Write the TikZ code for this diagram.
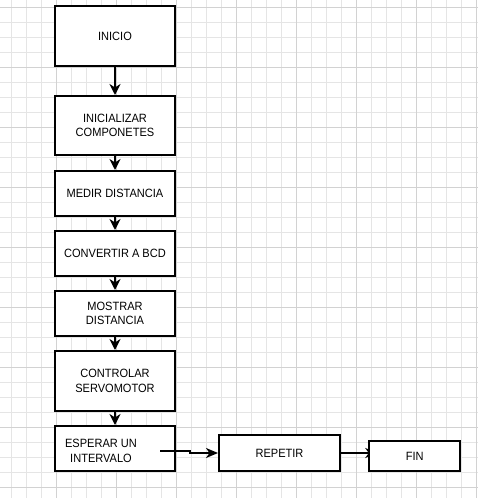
\documentclass[tikz,border=0pt]{standalone}
\usepackage{fontspec}
\setmainfont{Liberation Sans}[FakeStretch=0.92]
\usetikzlibrary{arrows.meta,calc}
\pgfdeclarelayer{gridlayer}
\pgfdeclarelayer{under}
\pgfsetlayers{gridlayer,under,main}
\begin{document}
\begin{tikzpicture}[x=1pt,y=-1pt,
  box/.style={draw, line width=2pt, fill=white, inner sep=0pt, align=center,
    minimum width=120pt, font=\fontsize{12}{14.5}\selectfont},
  flow/.style={line width=2pt, -{Stealth[length=11pt,width=11pt,inset=3.5pt]}},
  side/.style={line width=1.5pt, -{Stealth[length=12pt,width=10pt,inset=3.5pt]}},
  minorgrid/.style={line width=1pt, gray!20},
  majorgrid/.style={line width=1pt, gray!35}]
\useasboundingbox (0,0) rectangle (478,498);
\begin{pgfonlayer}{gridlayer}
  \fill[white] (0,0) rectangle (478,498);
  \foreach \i in {0,...,31} \draw[minorgrid] (11.7+15*\i,0) -- ++(0,498);
  \foreach \i in {0,...,32} \draw[minorgrid] (0,7.3+15*\i) -- ++(478,0);
  \foreach \i in {0,...,7} \draw[majorgrid] (56.7+60*\i,0) -- ++(0,498);
  \foreach \i in {0,...,8} \draw[majorgrid] (0,7.3+60*\i) -- ++(478,0);
\end{pgfonlayer}

\node[box, minimum height=60pt] (ini) at (115,36) {INICIO};
\node[box, minimum height=59pt] (inc) at (115,125.5) {INICIALIZAR\\COMPONETES};
\node[box, minimum height=45pt] (med) at (115,193.5) {MEDIR DISTANCIA};
\node[box, minimum height=45pt] (con) at (115,253.5) {CONVERTIR A BCD};
\node[box, minimum height=45pt] (mos) at (115,313.5) {MOSTRAR\\DISTANCIA};
\node[box, minimum height=60pt] (ctl) at (115,381) {CONTROLAR\\SERVOMOTOR};
\node[box, minimum height=45pt,
  label={[font=\fontsize{12}{14.5}\selectfont, align=center, xshift=-14pt, yshift=-2.5pt]center:ESPERAR UN\\INTERVALO}]
  (esp) at (115,448.5) {};
\node[box, minimum width=121pt, minimum height=36pt] (rep) at (279.5,453) {REPETIR};
\node[box, minimum width=91pt, minimum height=30pt] (fin) at (414.75,456) {FIN};

\draw[flow] (ini) -- (inc);
\draw[flow] (inc) -- (med);
\draw[flow] (med) -- (con);
\draw[flow] (con) -- (mos);
\draw[flow] (mos) -- (ctl);
\draw[flow] (ctl) -- (esp);

\coordinate (s) at (160,451);
\draw[side] (s) -- ++(30,0) -- ++(0,2) -- (rep.west);
\coordinate (fintip) at ($(fin.west |- rep.east)+(9,0)$);
\begin{pgfonlayer}{under}
  \draw[side] (rep.east) -- (fintip);
\end{pgfonlayer}
\end{tikzpicture}
\end{document}
